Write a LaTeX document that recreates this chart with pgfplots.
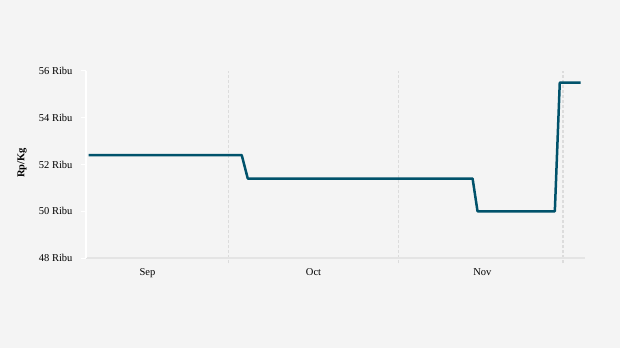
\documentclass[border=0pt]{standalone}
\usepackage{fontspec}
\setmainfont{Liberation Serif}
\usepackage{pgfplots}
\pgfplotsset{compat=1.18}
\definecolor{bg}{HTML}{F4F4F4}
\definecolor{ln}{HTML}{00526B}
\definecolor{gr}{HTML}{DCDCDC}
\definecolor{ax}{HTML}{E4E4E4}
\begin{document}
\begin{tikzpicture}[x=1pt,y=1pt]
\fill[bg] (0,0) rectangle (620,348);
\useasboundingbox (0,0) rectangle (620,348);
\begin{axis}[
  at={(86pt,90pt)}, anchor=south west,
  scale only axis, width=499pt, height=187pt,
  xmin=-26, xmax=65, ymin=48, ymax=56,
  axis x line*=bottom, axis y line*=left,
  x axis line style={ax, line width=1.5pt, -},
  y axis line style={white, line width=1.5pt, -},
  tick align=outside, major tick length=5pt,
  xtick={0,31,61}, xticklabels={},
  xtick style={gr, line width=1.5pt, dash pattern=on 3pt off 2pt},
  xmajorgrids, grid style={gr, line width=1.5pt, dash pattern=on 3pt off 2pt},
  extra x ticks={-14.8,15.5,46.3},
  extra x tick labels={Sep,Oct,Nov},
  extra x tick style={grid=none, major tick length=0pt},
  xticklabel style={font=\fontsize{10.5}{12}\selectfont, yshift=-7pt},
  ytick={48,50,52,54,56},
  yticklabels={48 Ribu,50 Ribu,52 Ribu,54 Ribu,56 Ribu},
  ytick style={white, line width=1pt},
  yticklabel style={font=\fontsize{10.5}{12}\selectfont, xshift=-5pt},
  clip=false,
]
\addplot[ln, line width=2.5pt, line join=round] coordinates {
  (-25.5,52.4) (2.4,52.4) (3.5,51.4) (44.5,51.4) (45.4,50.0)
  (59.5,50.0) (60.4,55.5) (64.2,55.5)
};
\end{axis}
\node[rotate=90, font=\bfseries\fontsize{10.5}{12}\selectfont] at (22,185) {Rp/Kg};
\end{tikzpicture}
\end{document}
